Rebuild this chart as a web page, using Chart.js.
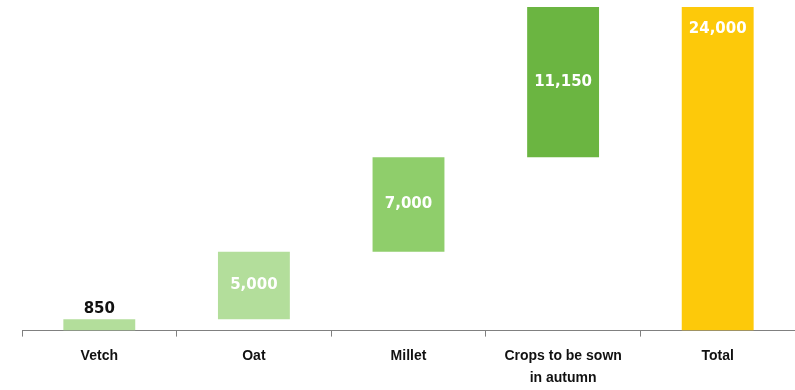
<!DOCTYPE html>
<html>
<head>
<meta charset="utf-8">
<script src="https://cdn.jsdelivr.net/npm/chart.js@4.4.0/dist/chart.umd.min.js"></script>
<style>
  html, body { margin: 0; padding: 0; background: #fff; }
  #wrap { width: 795px; height: 390px; }
</style>
</head>
<body>
<div id="wrap"><canvas id="waterfall"></canvas></div>
<script>
// --- Sown area by crop, waterfall ---
const categories = ['Vetch', 'Oat', 'Millet', ['Crops to be sown', 'in autumn'], 'Total'];
const increments = [850, 5000, 7000, 11150];
const total = 24000;
const barColors = ['#b3de9b', '#b3de9b', '#8fce6b', '#6bb541', '#fdc90a'];

// floating bars: each step starts where the previous one ended, total starts at 0
const floating = [];
let running = 0;
increments.forEach(v => {
    floating.push([running, running + v]);
    running += v;
});
floating.push([0, total]);
const shownValues = increments.concat([total]);

// value labels: first one sits above its bar in black, the rest are white inside
const valueLabels = {
    id: 'valueLabels',
    afterDatasetsDraw(chart) {
        const ctx = chart.ctx;
        const meta = chart.getDatasetMeta(0);
        ctx.save();
        ctx.font = 'bold 15px "DejaVu Sans", Verdana, sans-serif';
        ctx.textAlign = 'center';
        ctx.textBaseline = 'middle';
        meta.data.forEach((bar, i) => {
            const txt = shownValues[i].toLocaleString('en-US');
            const top = Math.min(bar.y, bar.base);
            const bottom = Math.max(bar.y, bar.base);
            let y;
            if (i === 0) {
                ctx.fillStyle = '#111';
                y = top - 10;
            } else if (i === meta.data.length - 1) {
                ctx.fillStyle = '#fff';
                y = top + 22;
            } else {
                ctx.fillStyle = '#fff';
                y = (top + bottom) / 2;
            }
            ctx.fillText(txt, bar.x, y);
        });
        ctx.restore();
    }
};

new Chart(document.getElementById('waterfall'), {
    type: 'bar',
    data: {
        labels: categories,
        datasets: [{
            data: floating,
            backgroundColor: barColors,
            borderWidth: 0,
            barPercentage: 0.93,
            categoryPercentage: 0.5
        }]
    },
    options: {
        responsive: true,
        maintainAspectRatio: false,
        animation: false,
        layout: { padding: { left: 22, right: 0, top: 7, bottom: -8 } },
        plugins: {
            legend: { display: false },
            tooltip: { enabled: false }
        },
        scales: {
            y: {
                display: false,
                min: 0,
                max: total
            },
            x: {
                offset: true,
                border: { display: true, color: '#808080', width: 1 },
                grid: {
                    offset: true,
                    drawOnChartArea: false,
                    drawTicks: true,
                    tickLength: 6,
                    color: '#808080'
                },
                ticks: {
                    color: '#111',
                    padding: 9,
                    maxRotation: 0,
                    font: { family: '"Liberation Sans", Arial, sans-serif', size: 14, weight: 'bold', lineHeight: 1.55 }
                }
            }
        }
    },
    plugins: [valueLabels]
});
</script>
</body>
</html>
